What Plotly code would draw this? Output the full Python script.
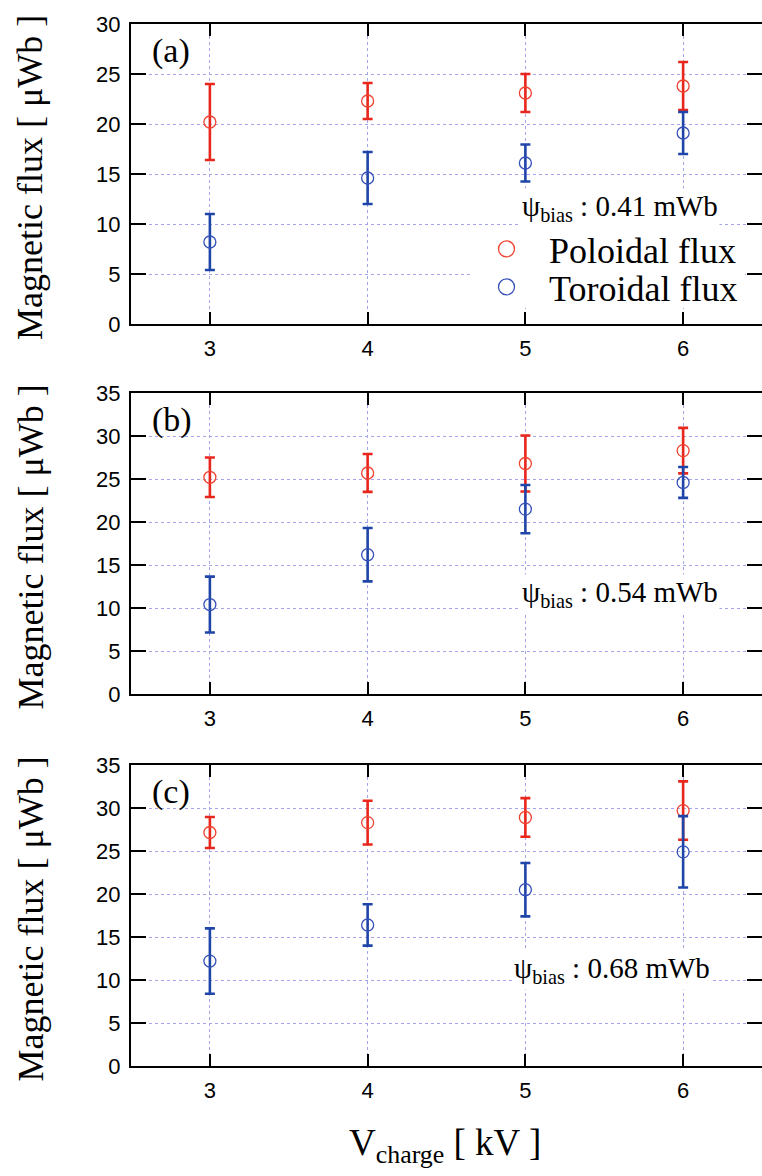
import plotly.graph_objects as go

# ---------------- data ----------------
volts = [3, 4, 5, 6]
tick_vals_x = [3, 4, 5, 6]

pol_a = [20.2, 22.3, 23.1, 23.8]
pol_a_err = [3.8, 1.8, 1.9, 2.4]
tor_a = [8.2, 14.6, 16.1, 19.1]
tor_a_err = [2.8, 2.6, 1.85, 2.1]

pol_b = [25.2, 25.7, 26.8, 28.3]
pol_b_err = [2.3, 2.2, 3.25, 2.65]
tor_b = [10.4, 16.2, 21.5, 24.6]
tor_b_err = [3.25, 3.1, 2.8, 1.8]

pol_c = [27.15, 28.3, 28.9, 29.7]
pol_c_err = [1.8, 2.55, 2.25, 3.4]
tor_c = [12.2, 16.4, 20.5, 24.9]
tor_c_err = [3.8, 2.4, 3.1, 4.15]

panel_labels = ["(a)", "(b)", "(c)"]
bias_values = ["0.41", "0.54", "0.68"]
y_max = [30, 35, 35]
series_names = ["Poloidal flux", "Toroidal flux"]

# ---------------- style ----------------
W, H = 762, 1176
RED_BAR = "#e8261c"
RED_MK = "#f0402e"
BLUE_BAR = "#1f45a8"
BLUE_MK = "#3550b8"
GRID = "#a4a4ea"
SERIF = "Liberation Serif, Times New Roman, serif"
SANS = "Liberation Sans, Arial, sans-serif"

# panel pixel extents (top, bottom)
panel_px = [(24, 324), (393, 694), (765, 1066)]
left_px = 131

pol = [(pol_a, pol_a_err), (pol_b, pol_b_err), (pol_c, pol_c_err)]
tor = [(tor_a, tor_a_err), (tor_b, tor_b_err), (tor_c, tor_c_err)]

fig = go.Figure()

for i in range(3):
    sx = "x" if i == 0 else f"x{i+1}"
    sy = "y" if i == 0 else f"y{i+1}"
    for (vals, errs), bar_c, mk_c in [(pol[i], RED_BAR, RED_MK), (tor[i], BLUE_BAR, BLUE_MK)]:
        fig.add_trace(go.Scatter(
            x=volts, y=vals, xaxis=sx, yaxis=sy, mode="markers",
            marker=dict(symbol="circle-open", size=12, color=mk_c, line=dict(width=1.3, color=mk_c)),
            error_y=dict(type="data", array=errs, visible=True, color=bar_c, thickness=2.6, width=5),
            showlegend=False, hoverinfo="skip",
        ))

# legend entries (one legend box per entry, to control row spacing)
for name, mk_c, lg in zip(series_names, [RED_MK, BLUE_MK], ["legend", "legend2"]):
    fig.add_trace(go.Scatter(
        x=[None], y=[None], xaxis="x", yaxis="y", mode="markers", name=name,
        marker=dict(symbol="circle-open", size=17, color=mk_c, line=dict(width=1.3, color=mk_c)),
        showlegend=True, legend=lg,
    ))

def legend_box(center_y):
    return dict(
        x=464 / W, y=1 - center_y / H, xanchor="left", yanchor="middle",
        bgcolor="rgba(0,0,0,0)", borderwidth=0,
        font=dict(family=SERIF, size=36, color="black"),
        itemwidth=75, tracegroupgap=0,
    )

layout = dict(
    template="none",
    width=W, height=H,
    margin=dict(l=0, r=0, t=0, b=0, pad=0, autoexpand=False),
    paper_bgcolor="white", plot_bgcolor="white",
    showlegend=True,
    legend=legend_box(249),
    legend2=legend_box(287),
    # white mask behind the legend (hides the grid there, as in the original)
    shapes=[dict(
        type="rect", xref="paper", yref="paper", layer="above",
        x0=472 / W, x1=745 / W, y0=1 - 308 / H, y1=1 - 226 / H,
        fillcolor="white", line=dict(width=0),
    )],
)

annotations = []
for i in range(3):
    top, bot = panel_px[i]
    xs = "" if i == 0 else str(i + 1)
    layout[f"xaxis{xs}"] = dict(
        domain=[left_px / W, 1], anchor=f"y{xs}", range=[2.5, 6.5], automargin=False,
        tickmode="array", tickvals=tick_vals_x, ticktext=[str(v) for v in tick_vals_x],
        ticks="inside", ticklen=12, tickwidth=2, tickcolor="black",
        showline=True, linewidth=2, linecolor="black", mirror="ticks",
        showgrid=True, gridcolor=GRID, gridwidth=1, griddash="dot",
        zeroline=False, tickfont=dict(family=SANS, size=22, color="black"),
        ticklabelstandoff=4,
    )
    layout[f"yaxis{xs}"] = dict(
        domain=[1 - bot / H, 1 - top / H], anchor=f"x{xs}", range=[0, y_max[i]], automargin=False,
        tickmode="linear", dtick=5, tick0=0,
        ticks="inside", ticklen=15, tickwidth=2, tickcolor="black",
        showline=True, linewidth=2, linecolor="black", mirror="ticks",
        showgrid=True, gridcolor=GRID, gridwidth=1, griddash="dot",
        zeroline=False, tickfont=dict(family=SANS, size=22, color="black"),
        ticklabelstandoff=4,
    )
    # y title
    annotations.append(dict(
        xref="paper", yref="paper", x=30 / W, y=1 - ((top + bot) / 2 + 4) / H,
        text="Magnetic flux [ μWb ]", textangle=-90, showarrow=False,
        font=dict(family=SERIF, size=36, color="black"), xanchor="center", yanchor="middle",
    ))
    # panel label
    annotations.append(dict(
        xref="paper", yref="paper", x=150 / W, y=1 - (top + 27) / H,
        text=panel_labels[i], showarrow=False, xanchor="left", yanchor="middle",
        font=dict(family=SERIF, size=34, color="black"),
    ))

bias_pos = [(520, 208), (520, 594), (512, 970)]
for i, (bx, by) in enumerate(bias_pos):
    annotations.append(dict(
        xref="paper", yref="paper", x=bx / W, y=1 - by / H,
        text=f"ψ<sub>bias</sub> : {bias_values[i]} mWb", showarrow=False,
        xanchor="left", yanchor="middle", bgcolor="white",
        font=dict(family=SERIF, size=29, color="black"),
    ))

annotations.append(dict(
    xref="paper", yref="paper", x=445 / W, y=1 - 1145 / H,
    text="V<sub>charge</sub> [ kV ]", showarrow=False, xanchor="center", yanchor="middle",
    font=dict(family=SERIF, size=37, color="black"),
))

layout["annotations"] = annotations
fig.update_layout(**layout)
fig.write_html("out.html")
